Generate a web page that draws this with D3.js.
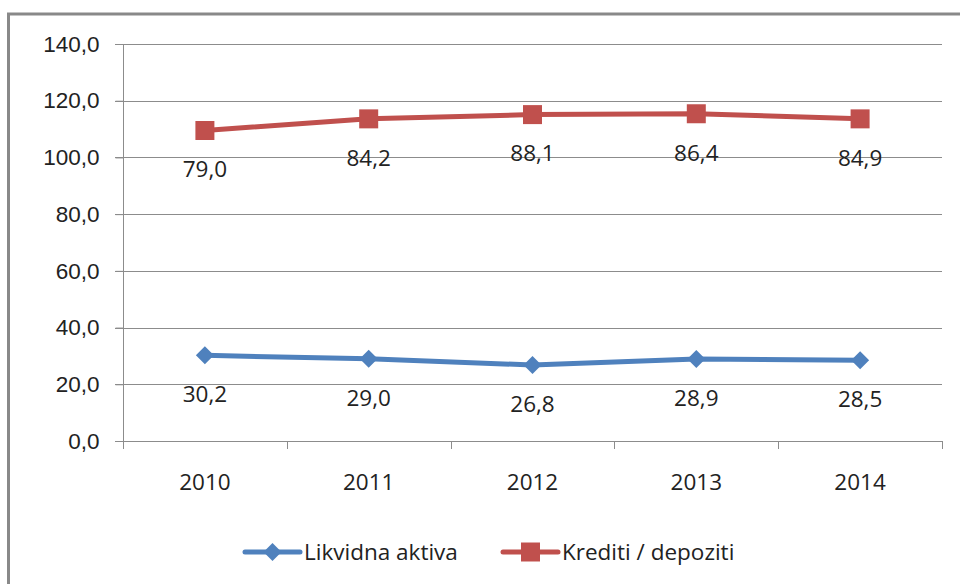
<!DOCTYPE html>
<html>
<head>
<meta charset="utf-8">
<script src="https://cdn.jsdelivr.net/npm/d3@7"></script>
<style>
  body { margin: 0; background: #fff; }
  svg { display: block; font-family: "Open Sans", Lato, sans-serif; }
</style>
</head>
<body>
<div id="chart"></div>
<script>
// categories and series
const years = ["2010", "2011", "2012", "2013", "2014"];
const likvidnaAktiva = [30.2, 29.0, 26.8, 28.9, 28.5];
const kreditiDepoziti = [109.5, 113.6, 115.1, 115.4, 113.6];
// the red series carries its own label texts in the original
const kreditiLabels = ["79,0", "84,2", "88,1", "86,4", "84,9"];
const yTicks = [0, 20, 40, 60, 80, 100, 120, 140];

const width = 960, height = 584;
const blue = "#4f81bd", red = "#c0504d";
const fontSize = 22.5;

const svg = d3.select("#chart").append("svg")
    .attr("width", width)
    .attr("height", height);

// outer chart border (runs off right and bottom)
svg.append("rect")
    .attr("x", 8.5).attr("y", 14)
    .attr("width", 980).attr("height", 620)
    .attr("fill", "#fff")
    .attr("stroke", "#898989")
    .attr("stroke-width", 3);

const x = d3.scaleBand().domain(years).range([123, 942]);
const y = d3.scaleLinear().domain([0, 140]).range([441, 44]);
const fmt = d3.formatLocale({ decimal: ",", thousands: ".", grouping: [3], currency: ["", ""] }).format(".1f");

// gridlines
svg.append("g")
    .selectAll("line")
    .data(yTicks.filter(d => d > 0))
    .join("line")
    .attr("x1", 115).attr("x2", 942)
    .attr("y1", d => Math.round(y(d)) + 0.5)
    .attr("y2", d => Math.round(y(d)) + 0.5)
    .attr("stroke", "#8c8c8c")
    .attr("stroke-width", 1);

// y axis
const yAxis = svg.append("g")
    .attr("transform", "translate(123.5,0)")
    .call(d3.axisLeft(y).tickValues(yTicks).tickSize(8).tickPadding(16).tickFormat(fmt));
yAxis.select(".domain").attr("stroke", "#8c8c8c").attr("d", `M0,${y(140)}V${y(0)}`);
yAxis.selectAll(".tick line").attr("stroke", "#8c8c8c");
yAxis.selectAll("text").attr("fill", "#222").attr("font-size", fontSize).attr("font-family", null);

// x axis line and tick marks at band edges
svg.append("line")
    .attr("x1", 115).attr("x2", 942)
    .attr("y1", y(0) + 0.5).attr("y2", y(0) + 0.5)
    .attr("stroke", "#8c8c8c");
svg.append("g")
    .selectAll("line")
    .data(years.concat(["end"]))
    .join("line")
    .attr("x1", (d, i) => Math.round(x.range()[0] + i * x.bandwidth()) + 0.5)
    .attr("x2", (d, i) => Math.round(x.range()[0] + i * x.bandwidth()) + 0.5)
    .attr("y1", y(0)).attr("y2", y(0) + 8)
    .attr("stroke", "#8c8c8c");
svg.append("g")
    .selectAll("text")
    .data(years)
    .join("text")
    .attr("x", d => x(d) + x.bandwidth() / 2)
    .attr("y", 482)
    .attr("dy", "0.35em")
    .attr("text-anchor", "middle")
    .attr("font-size", fontSize)
    .attr("fill", "#222")
    .text(d => d);

const cx = d => x(d) + x.bandwidth() / 2;

function drawSeries(values, color, marker, labels) {
    const pts = values.map((v, i) => [cx(years[i]), y(v)]);
    svg.append("path")
        .attr("d", d3.line()(pts))
        .attr("fill", "none")
        .attr("stroke", color)
        .attr("stroke-width", 5)
        .attr("stroke-linejoin", "round");
    svg.append("g")
        .selectAll("path")
        .data(pts)
        .join("path")
        .attr("transform", d => `translate(${d[0]},${d[1]})`)
        .attr("d", marker)
        .attr("fill", color);
    svg.append("g")
        .selectAll("text")
        .data(pts)
        .join("text")
        .attr("x", d => d[0])
        .attr("y", d => d[1] + 39)
        .attr("dy", "0.35em")
        .attr("text-anchor", "middle")
        .attr("font-size", fontSize)
        .attr("fill", "#222")
        .text((d, i) => labels[i]);
}

const diamond = "M0,-9L9,0L0,9L-9,0Z";
const square = "M-9.5,-9.5H9.5V9.5H-9.5Z";

drawSeries(likvidnaAktiva, blue, diamond, likvidnaAktiva.map(fmt));
drawSeries(kreditiDepoziti, red, square, kreditiLabels);

// legend
const legend = [
    { name: "Likvidna aktiva", color: blue, marker: diamond, x: 245 },
    { name: "Krediti / depoziti", color: red, marker: square, x: 503 }
];
const lg = svg.append("g")
    .selectAll("g")
    .data(legend)
    .join("g")
    .attr("transform", d => `translate(${d.x},552)`);
lg.append("line")
    .attr("x1", 0).attr("x2", 55)
    .attr("stroke", d => d.color)
    .attr("stroke-width", 5)
    .attr("stroke-linecap", "round");
lg.append("path")
    .attr("transform", "translate(27.5,0)")
    .attr("d", d => d.marker)
    .attr("fill", d => d.color);
lg.append("text")
    .attr("x", 59)
    .attr("dy", "0.35em")
    .attr("font-size", fontSize)
    .attr("fill", "#222")
    .text(d => d.name);
</script>
</body>
</html>
